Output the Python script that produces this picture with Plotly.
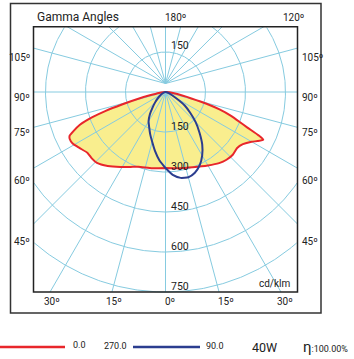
import numpy as np
import plotly.graph_objects as go

# ---------------- data (cd/klm) ----------------
# C0 plane (right half of red curve)
gamma_c0 = [0, 10, 20, 30, 37, 42, 47, 52, 56, 60, 62, 64, 65, 66.5, 68, 70, 72, 74, 76, 80, 85, 90]
i_c0 = [285, 290, 300, 318, 334, 342, 345, 341, 350, 373, 392, 408, 385, 335, 300, 260, 215, 160, 100, 45, 15, 0]
# C180 plane (left half of red curve)
gamma_c180 = [0, 10, 20, 25, 31, 38, 44, 48, 52, 57, 61, 64, 65.5, 67, 69, 71, 72.5, 74, 76, 78, 82, 86, 90]
i_c180 = [285, 290, 298, 310, 328, 352, 370, 372, 371, 385, 398, 400, 395, 375, 345, 290, 235, 170, 105, 60, 25, 10, 0]
# C90 plane (right half of blue curve)
gamma_c90 = [0, 5, 10, 15, 20, 25, 30, 35, 40, 45, 50, 55, 60, 70, 80, 90]
i_c90 = [285, 312, 327, 331, 322, 303, 275, 240, 198, 160, 120, 88, 45, 15, 5, 0]
# C270 plane (left half of blue curve)
gamma_c270 = [0, 5, 10, 15, 20, 25, 30, 35, 40, 45, 50, 60, 70, 80, 90]
i_c270 = [285, 258, 225, 193, 168, 145, 127, 102, 75, 55, 40, 20, 8, 3, 0]

# grid / tick values
ring_values = [150, 300, 450, 600, 750]
ring_labels_lower = ["150", "300", "450", "600", "750"]
ring_labels_upper = ["150"]
lower_angles = [0, 15, 30, 45, 60, 75, 90]
upper_angles = [105, 120, 135, 150, 165, 180]
side_labels = ["105º", "90º", "75º", "60º", "45º"]
bottom_labels = ["30º", "15º", "0º", "15º", "30º"]
top_labels = ["180º", "120º"]

legend_red = ["0.0"]
legend_blue = ["270.0", "90.0"]
power_text = "40W"
eff_text = "100.00%"

# ---------------- geometry ----------------
W, H = 354, 359
CX, CY = 165.5, 92.0      # pixel of polar centre
U = 3.75                  # cd/klm per pixel


def X(px):
    return (px - CX) * U


def Y(py):
    return (CY - py) * U


XL, XR, YT, YB = -495, 495, 245, -750    # inner frame (data units)
UP_OFF = 32                              # upper fan origin offset

GRID = "#86cbe0"
RED = "#e8262b"
BLUE = "#2b3d8f"
YELLOW = "#f9ee8e"
TXT = "#222222"
FONT = "Roboto"


def half_curve(g_left, i_left, g_right, i_right):
    gl = np.radians(np.array(g_left, dtype=float))[::-1]
    il = np.array(i_left, dtype=float)[::-1]
    gr = np.radians(np.array(g_right, dtype=float))
    ir = np.array(i_right, dtype=float)
    x = np.concatenate([-il * np.sin(gl), ir * np.sin(gr)])
    y = np.concatenate([-il * np.cos(gl), -ir * np.cos(gr)])
    return x, y


fig = go.Figure()

# yellow fill of the C0-C180 curve (under the grid)
rx, ry = half_curve(gamma_c180, i_c180, gamma_c0, i_c0)
fig.add_trace(go.Scatter(x=rx, y=ry, mode="lines", fill="toself", fillcolor=YELLOW,
                         line=dict(color="rgba(0,0,0,0)", width=0, shape="spline", smoothing=0.5),
                         hoverinfo="skip", showlegend=False))

# rings (clipped to frame)
gx, gy = [], []
for r in ring_values:
    th = np.radians(np.arange(0, 360.5, 0.5))
    cx_ = r * np.sin(th)
    cy_ = -r * np.cos(th)
    inside = (cx_ >= XL) & (cx_ <= XR) & (cy_ >= YB) & (cy_ <= YT)
    for a, b, ok in zip(cx_, cy_, inside):
        if ok:
            gx.append(a); gy.append(b)
        else:
            gx.append(None); gy.append(None)
    gx.append(None); gy.append(None)


def ray(ox, oy, g):
    dx, dy = np.sin(np.radians(g)), -np.cos(np.radians(g))
    ts = []
    if dx > 1e-9:
        ts.append((XR - ox) / dx)
    if dx < -1e-9:
        ts.append((XL - ox) / dx)
    if dy > 1e-9:
        ts.append((YT - oy) / dy)
    if dy < -1e-9:
        ts.append((YB - oy) / dy)
    t = min(ts)
    return [ox, ox + t * dx, None], [oy, oy + t * dy, None]


for g in lower_angles:
    for s in (1, -1):
        a, b = ray(0, 0, s * g)
        gx += a; gy += b
for g in upper_angles:
    for s in (1, -1):
        a, b = ray(0, UP_OFF, s * g)
        gx += a; gy += b

fig.add_trace(go.Scatter(x=gx, y=gy, mode="lines", line=dict(color=GRID, width=1),
                         hoverinfo="skip", showlegend=False, connectgaps=False))

# red outline
fig.add_trace(go.Scatter(x=rx, y=ry, mode="lines",
                         line=dict(color=RED, width=2, shape="spline", smoothing=0.5),
                         hoverinfo="skip", showlegend=False))
# blue outline
bx, by = half_curve(gamma_c270, i_c270, gamma_c90, i_c90)
fig.add_trace(go.Scatter(x=bx, y=by, mode="lines",
                         line=dict(color=BLUE, width=2, shape="spline", smoothing=0.5),
                         hoverinfo="skip", showlegend=False))

shapes = []
# outer frame & inner frame
shapes.append(dict(type="rect", xref="x", yref="y", x0=X(10.5), x1=X(321), y0=Y(3.5), y1=Y(313),
                   line=dict(color="#333333", width=1.5)))
shapes.append(dict(type="rect", xref="x", yref="y", x0=XL, x1=XR, y0=YB, y1=YT,
                   line=dict(color="#222222", width=1.5)))
# legend lines
shapes.append(dict(type="line", xref="x", yref="y", x0=X(0), x1=X(65), y0=Y(347), y1=Y(347),
                   line=dict(color=RED, width=2.5)))
shapes.append(dict(type="line", xref="x", yref="y", x0=X(133), x1=X(200), y0=Y(347), y1=Y(347),
                   line=dict(color=BLUE, width=2.5)))

ann = []


def txt(x, y, t, size=10, xa="left", ya="middle"):
    ann.append(dict(x=x, y=y, xref="x", yref="y", text=t, showarrow=False, xanchor=xa, yanchor=ya,
                    font=dict(family=FONT, size=size, color=TXT)))


txt(X(35), Y(17), "Gamma Angles", 12)
txt(X(175), Y(17), top_labels[0], 10, "center")
txt(X(293), Y(17), top_labels[1], 10, "center")
# ring labels
for r, t in zip(ring_values, ring_labels_lower):
    txt(X(169), -r - 12, t, 10.5, "left", "bottom")
for r, t in zip(ring_values, ring_labels_upper):
    txt(X(169), r - 8, t, 10.5, "left", "bottom")
# side labels
side_y = [57, 97, 132, 180, 241]
for t, py in zip(side_labels, side_y):
    txt(X(32), Y(py), t, 10, "right")
    txt(X(300), Y(py), t, 10, "left")
bottom_x = [52, 114, 170, 226, 285]
for t, px in zip(bottom_labels, bottom_x):
    txt(X(px), Y(301), t, 10, "center")
txt(X(293), Y(283), "cd/klm", 10, "right")
# legend texts
txt(X(71), Y(345), legend_red[0], 9, "left")
txt(X(129), Y(346), legend_blue[0], 9, "right")
txt(X(204), Y(346), legend_blue[1], 9, "left")
txt(X(250), Y(347), power_text, 12.5, "left")
ann.append(dict(x=X(301), y=Y(347), xref="x", yref="y", showarrow=False, xanchor="left", yanchor="middle",
                text="<span style='font-size:15px'>η</span>:" + eff_text,
                font=dict(family=FONT, size=9, color=TXT)))

fig.update_layout(
    width=W, height=H, margin=dict(l=0, r=0, t=0, b=0),
    paper_bgcolor="white", plot_bgcolor="white",
    xaxis=dict(range=[X(0), X(W)], visible=False, fixedrange=True),
    yaxis=dict(range=[Y(H), Y(0)], visible=False, fixedrange=True),
    shapes=shapes, annotations=ann, showlegend=False,
)

fig.write_html("out.html", config={"displayModeBar": False},
               post_script="document.body.style.margin='0';document.body.style.overflow='hidden';")
